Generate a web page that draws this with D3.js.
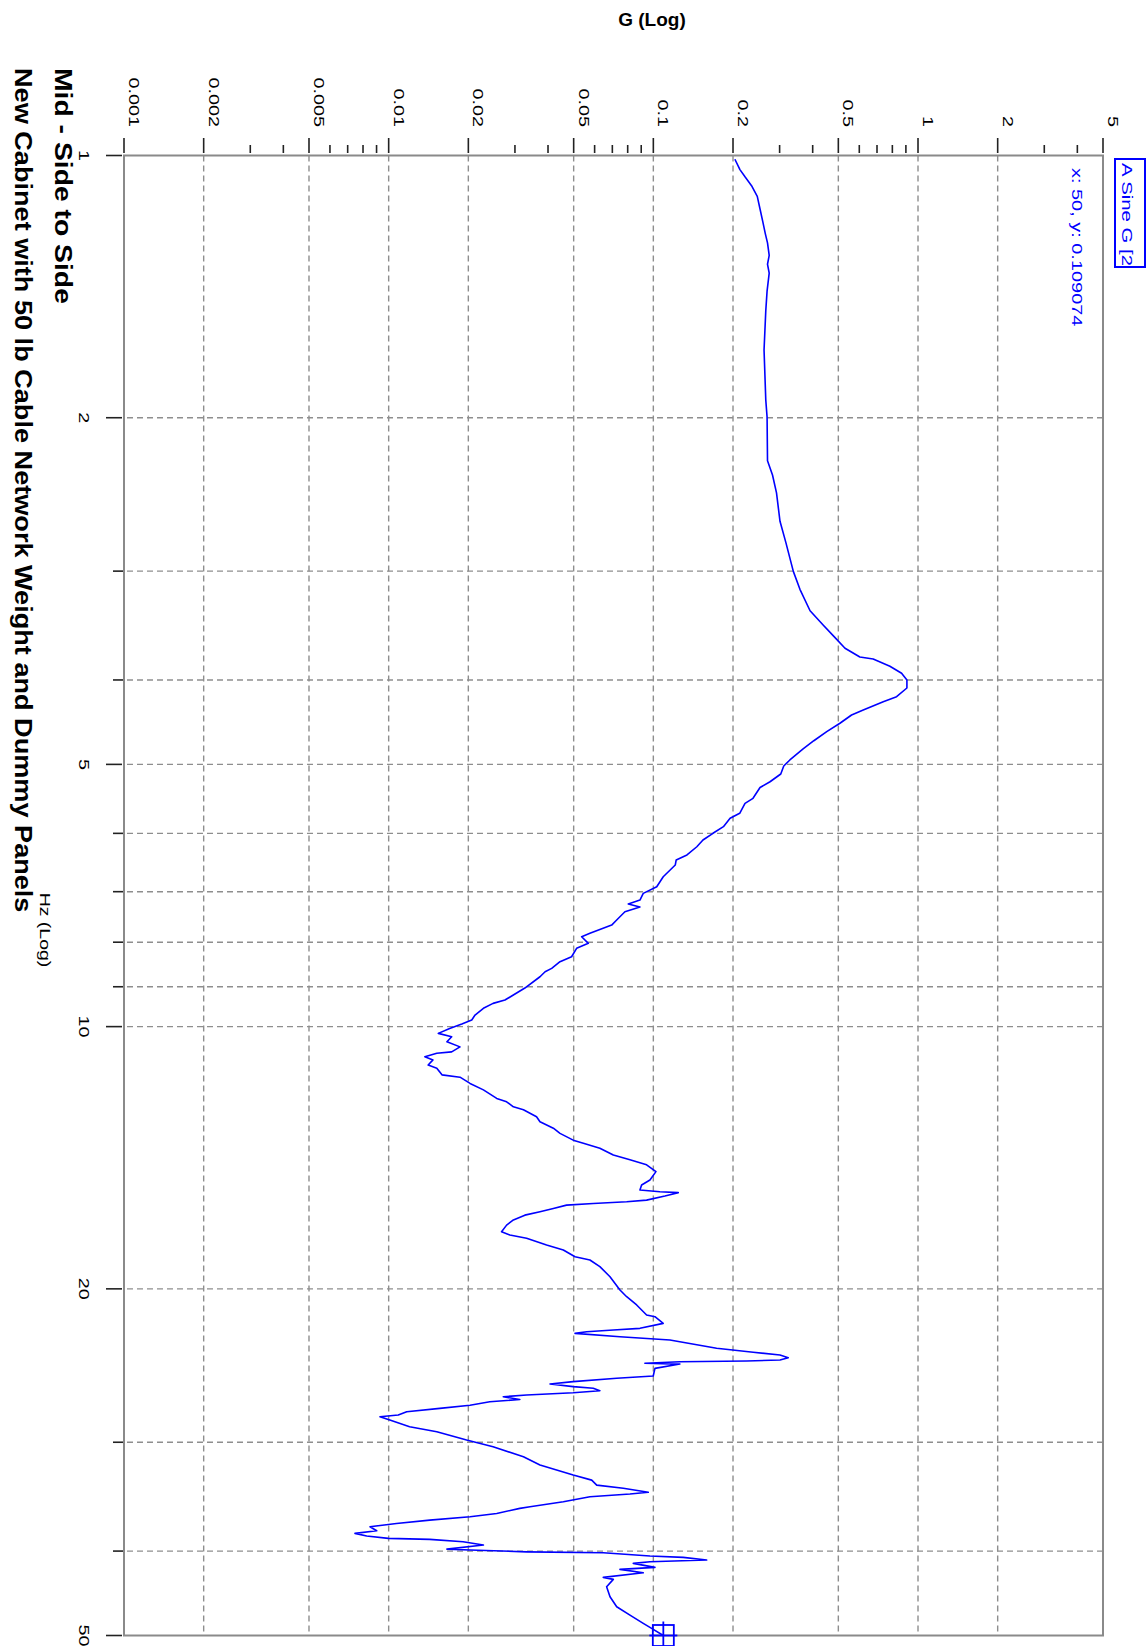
<!DOCTYPE html>
<html>
<head>
<meta charset="utf-8">
<script src="https://cdn.jsdelivr.net/npm/d3@7"></script>
<style>
  html, body { margin: 0; padding: 0; background: #fff; }
  svg { display: block; }
  text { font-family: "Liberation Sans", Arial, sans-serif; }
</style>
</head>
<body>
<svg id="chart" width="1148" height="1646"></svg>
<script>
// Sine sweep response: frequency (Hz) and acceleration (G)
const freqHz = [1.01,1.038,1.058,1.083,1.114,1.152,1.19,1.23,1.26,1.302,1.333,1.365,1.431,1.507,1.672,1.909,1.996,2.241,2.327,2.439,2.63,2.784,3.002,3.148,3.331,3.459,3.558,3.678,3.765,3.784,3.857,3.929,4.0,4.086,4.181,4.236,4.331,4.388,4.485,4.586,4.697,4.8,4.942,5.021,5.129,5.235,5.315,5.469,5.542,5.69,5.766,5.895,5.999,6.106,6.216,6.353,6.438,6.524,6.729,6.909,7.031,7.157,7.233,7.29,7.381,7.545,7.646,7.815,7.885,8.024,8.13,8.314,8.424,8.573,8.65,8.765,9.031,
  9.322,9.404,9.528,9.698,9.827,9.931,10.05,10.18,10.27,10.41,10.55,10.69,10.73,10.83,10.92,11.07,11.16,11.36,11.43,11.62,11.82,12.09,12.2,12.36,12.46,12.69,12.86,13.08,13.26,13.5,13.61,13.79,14.04,14.22,14.41,14.67,15.0,15.2,15.4,15.47,15.51,15.65,15.82,15.89,15.96,16.03,16.17,16.31,16.46,16.67,16.9,17.2,17.35,17.5,17.81,18.05,18.37,18.53,18.86,19.37,20.06,20.42,20.87,21.43,21.53,21.91,22.2,22.3,22.4,22.5,22.7,22.9,23.4,23.65,23.82,23.99,24.14,24.2,24.25,24.35,24.4,24.68,25.18,25.33,25.56,25.72,25.9,26.01,26.18,26.32,26.48,26.6,26.79,26.96,27.2,27.43,27.68,27.92,28.04,28.29,28.79,29.18,29.83,30.36,31.17,31.86,32.72,33.16,33.6,33.88,34.24,34.4,34.65,35.11,35.58,35.73,36.21,36.53,36.86,37.18,37.51,37.91,38.17,38.44,38.68,38.78,39.03,39.37,39.79,39.89,40.08,40.18,40.53,40.67,40.96,41.15,41.32,41.76,41.98,42.36,42.88,43.11,43.95,45.13,46.34,47.37,48.42,49.06,50];
const accelG = [0.2033,0.2124,0.222,0.235,0.247,0.253,0.259,0.265,0.27,0.274,0.27,0.274,0.269,0.266,0.262,0.266,0.269,0.27,0.282,0.292,0.301,0.317,0.338,0.358,0.391,0.438,0.478,0.53,0.603,0.677,0.783,0.867,0.908,0.908,0.83,0.739,0.621,0.561,0.507,0.452,0.404,0.368,0.328,0.311,0.303,0.276,0.253,0.238,0.222,0.212,0.195,0.184,0.168,0.154,0.146,0.134,0.122,0.121,0.109,0.103,0.0916,0.089,0.0804,0.089,0.0781,0.0727,0.0696,0.0576,0.0536,0.0568,0.0513,0.0491,0.0444,0.0413,0.039,0.0373,0.0327,
  0.0275,0.0248,0.0228,0.0212,0.0206,0.0189,0.017,0.0154,0.0173,0.0166,0.0186,0.0173,0.0152,0.0137,0.0147,0.0141,0.0152,0.0159,0.0186,0.0203,0.0228,0.0256,0.0279,0.0296,0.0323,0.0362,0.0373,0.0419,0.0444,0.0498,0.0544,0.0628,0.0706,0.0816,0.0943,0.1023,0.0971,0.0903,0.089,0.1059,0.1242,0.1106,0.0943,0.0793,0.0593,0.047,0.0419,0.0373,0.0327,0.0296,0.0279,0.0267,0.0287,0.0332,0.0395,0.0457,0.0506,0.0576,0.0628,0.0686,0.0748,0.0793,0.0865,0.0943,0.1014,0.109,0.089,0.0706,0.056,0.0506,0.0748,0.1155,0.1734,0.2384,0.301,0.3234,0.301,0.2251,0.126,0.0929,0.126,0.1014,0.0999,0.0727,0.0498,0.0407,0.0498,0.0593,0.0628,0.0498,0.0332,0.0271,0.0313,0.0241,0.0203,0.0156,0.0117,0.01087,0.00927,0.0101,0.012,0.0152,0.0197,0.0248,0.0323,0.0373,0.0498,0.0585,0.0611,0.077,0.0957,0.0816,0.0576,0.0457,0.0342,0.0313,0.0256,0.0203,0.0143,0.0107,0.0085,0.00901,0.00746,0.00826,0.00997,0.0143,0.0191,0.0228,0.0166,0.0203,0.0332,0.0647,0.0971,0.1297,0.159,0.0971,0.084,0.1014,0.0748,0.0916,0.0647,0.0706,0.0666,0.0686,0.0727,0.0816,0.0916,0.0985,0.109074];

// Axis ticks and labels
const gTicks = [0.001,0.002,0.005,0.01,0.02,0.05,0.1,0.2,0.5,1,2,5];
const gTickLabels = ["0.001","0.002","0.005","0.01","0.02","0.05","0.1","0.2","0.5","1","2","5"];
const hzTicks = [1,2,5,10,20,50];
const hzTickLabels = ["1","2","5","10","20","50"];
const hzGridLines = [2,3,4,5,6,7,8,9,10,20,30,40];

// Cursor readout
const cursorHz = 50;
const cursorG = 0.109074;
const traceName = "A Sine G [2";
const titleLines = ["Mid - Side to Side", "New Cabinet with 50 lb Cable Network Weight and Dummy Panels"];
const gAxisTitle = "G (Log)";
const hzAxisTitle = "Hz (Log)";

const W = 1148, H = 1646;
const BLUE = "#0000ff";
const GRID = "#8e8e8e";

const svg = d3.select("#chart");
svg.append("rect").attr("width", W).attr("height", H).attr("fill", "#fff");

// The chart is drawn in its own frame (frequency across, G up) and turned a
// quarter turn clockwise, so frequency runs down the page and G runs across.
const g = svg.append("g").attr("transform", `translate(${W},0) rotate(90)`);

const plot = { left: 155.5, right: 1635.5, top: 45, bottom: 1024 };
const x = d3.scaleLog().domain([1, 50]).range([plot.left, plot.right]);
const y = d3.scaleLog().domain([0.001, 5]).range([plot.bottom, plot.top]);

// text drawn with a horizontal stretch, like the wide raster font of the source plot
function label(parent, str, px, py, opts) {
  const o = Object.assign({ size: 15, sx: 1.32, anchor: "start", weight: "normal", fill: "#000" }, opts);
  return parent.append("text")
    .attr("transform", `translate(${px},${py}) scale(${o.sx},1)`)
    .attr("text-anchor", o.anchor)
    .attr("font-size", o.size)
    .attr("font-weight", o.weight)
    .attr("fill", o.fill)
    .text(str);
}

// grid
const gGridLines = gTicks.filter(v => v > y.domain()[0] && v < y.domain()[1]);
g.append("g").selectAll("line").data(hzGridLines).join("line")
  .attr("x1", d => x(d)).attr("x2", d => x(d))
  .attr("y1", plot.top).attr("y2", plot.bottom)
  .attr("stroke", GRID).attr("stroke-width", 1.4).attr("stroke-dasharray", "6,4");
g.append("g").selectAll("line").data(gGridLines).join("line")
  .attr("y1", d => y(d)).attr("y2", d => y(d))
  .attr("x1", plot.left).attr("x2", plot.right)
  .attr("stroke", GRID).attr("stroke-width", 1.4).attr("stroke-dasharray", "6,4");

// frame
g.append("rect")
  .attr("x", plot.left).attr("y", plot.top)
  .attr("width", plot.right - plot.left).attr("height", plot.bottom - plot.top)
  .attr("fill", "none").attr("stroke", "#8a8a8a").attr("stroke-width", 2);

// G axis ticks (major 1-2-5, minor at the remaining decade steps)
const gMinor = y.ticks().filter(v => !gTicks.some(t => Math.abs(t - v) / t < 1e-6));
g.append("g").selectAll("line").data(gTicks).join("line")
  .attr("y1", d => y(d)).attr("y2", d => y(d))
  .attr("x1", plot.left - 2.5).attr("x2", plot.left - 17.5)
  .attr("stroke", "#222").attr("stroke-width", 1.6);
g.append("g").selectAll("line").data(gMinor).join("line")
  .attr("y1", d => y(d)).attr("y2", d => y(d))
  .attr("x1", plot.left - 2.5).attr("x2", plot.left - 10.5)
  .attr("stroke", "#222").attr("stroke-width", 1.6);
gTicks.forEach((v, i) => label(g, gTickLabels[i], 127, y(v) - 5, { anchor: "end" }));

// Hz axis ticks
const hzMinor = x.ticks().filter(v => !hzTicks.some(t => Math.abs(t - v) / t < 1e-6));
g.append("g").selectAll("line").data(hzTicks).join("line")
  .attr("x1", d => x(d)).attr("x2", d => x(d))
  .attr("y1", plot.bottom + 2).attr("y2", plot.bottom + 18)
  .attr("stroke", "#222").attr("stroke-width", 1.6);
g.append("g").selectAll("line").data(hzMinor).join("line")
  .attr("x1", d => x(d)).attr("x2", d => x(d))
  .attr("y1", plot.bottom + 1).attr("y2", plot.bottom + 11)
  .attr("stroke", "#222").attr("stroke-width", 1.6);
hzTicks.forEach((v, i) => label(g, hzTickLabels[i], x(v), 1069, { anchor: "middle" }));

// axis titles and chart titles
label(g, hzAxisTitle, 930, 1108, { anchor: "middle", sx: 1.3 });
label(g, titleLines[0], 68, 1093, { size: 24, weight: "bold", sx: 1.18 });
label(g, titleLines[1], 68, 1133, { size: 24, weight: "bold", sx: 1.13 });
svg.append("text").attr("x", 652).attr("y", 26)
  .attr("text-anchor", "middle").attr("font-size", 19).attr("font-weight", "bold")
  .text(gAxisTitle);

// response trace
const pts = d3.zip(freqHz, accelG);
const line = d3.line().x(d => x(d[0])).y(d => y(d[1]));
g.append("path").datum(pts)
  .attr("d", line)
  .attr("fill", "none").attr("stroke", BLUE).attr("stroke-width", 1.6)
  .attr("stroke-linejoin", "round");

// cursor marker at the end of the sweep
const cx = x(cursorHz), cy = y(cursorG);
const cur = g.append("g").attr("stroke", BLUE).attr("stroke-width", 1.8).attr("fill", "none");
cur.append("rect").attr("x", cx - 10.5).attr("y", cy - 10.5).attr("width", 21).attr("height", 21);
cur.append("line").attr("x1", cx - 14).attr("x2", cx + 14).attr("y1", cy).attr("y2", cy);
cur.append("line").attr("x1", cx).attr("x2", cx).attr("y1", cy - 14).attr("y2", cy + 14);

// legend box with the trace name, and the cursor readout
const legend = { x: 159, y: 3, w: 108, h: 30 };
svg.append("defs").append("clipPath").attr("id", "legendClip")
  .append("rect").attr("x", legend.x).attr("y", legend.y).attr("width", legend.w).attr("height", legend.h);
g.append("rect").attr("x", legend.x).attr("y", legend.y).attr("width", legend.w).attr("height", legend.h)
  .attr("fill", "#fff").attr("stroke", BLUE).attr("stroke-width", 2);
const lg = g.append("g").attr("clip-path", "url(#legendClip)");
label(lg, traceName, legend.x + 4, 26, { fill: BLUE, sx: 1.36 });
label(g, `x: ${cursorHz}, y: ${cursorG}`, 168, 76, { fill: BLUE, sx: 1.33 });
</script>
</body>
</html>
